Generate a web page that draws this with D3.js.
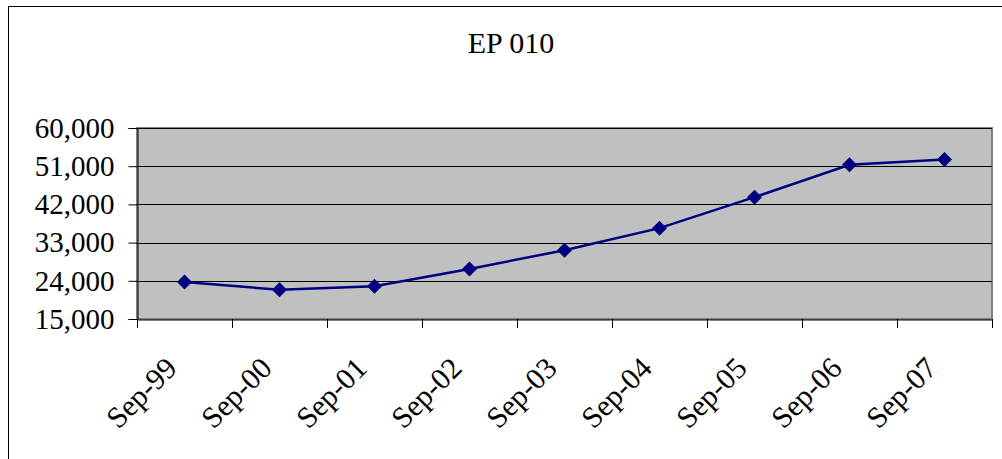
<!DOCTYPE html>
<html><head><meta charset="utf-8">
<script src="https://cdn.jsdelivr.net/npm/d3@7"></script>
<style>body{margin:0;background:#fff;} svg{display:block;}</style>
</head><body>
<svg id="c" width="1002" height="459"></svg>
<script>
const title = "EP 010";
const categories = ["Sep-99","Sep-00","Sep-01","Sep-02","Sep-03","Sep-04","Sep-05","Sep-06","Sep-07"];
const values = [23700, 21900, 22700, 26800, 31200, 36400, 43700, 51350, 52600];
const yTicks = [15000, 24000, 33000, 42000, 51000, 60000];

const font = "'Liberation Serif', 'Times New Roman', serif";
const svg = d3.select("#c");
const L = 137, R = 992, T = 128, B = 319;

// outer chart border
svg.append("rect").attr("x", 8.5).attr("y", 6.5).attr("width", 1100).attr("height", 600)
  .attr("fill", "#fff").attr("stroke", "#000").attr("stroke-width", 1);

svg.append("text").attr("x", 511).attr("y", 53).attr("text-anchor", "middle")
  .attr("font-family", font).attr("font-size", 30).text(title);

const x = d3.scaleBand().domain(categories).range([L, R]);
const y = d3.scaleLinear().domain([15000, 60000]).range([B, T]);

svg.append("rect").attr("x", L).attr("y", T).attr("width", R - L).attr("height", B - T)
  .attr("fill", "#c0c0c0").attr("stroke", "#808080").attr("stroke-width", 2);

svg.append("g").selectAll("line").data(yTicks.slice(1)).join("line")
  .attr("x1", L).attr("x2", R)
  .attr("y1", d => Math.round(y(d)) + 0.5).attr("y2", d => Math.round(y(d)) + 0.5)
  .attr("stroke", "#000").attr("stroke-width", 1);

const yAxis = svg.append("g").attr("transform", `translate(${L + 0.5},0)`)
  .call(d3.axisLeft(y).tickValues(yTicks).tickSize(9).tickPadding(14)
    .tickFormat(d3.format(",")));
yAxis.select(".domain").attr("stroke", "#000");
yAxis.selectAll(".tick line").attr("stroke", "#000");
yAxis.selectAll("text").attr("font-family", font).attr("font-size", 29).attr("fill", "#000");

const xAxis = svg.append("g").attr("transform", `translate(0,${B + 0.5})`)
  .call(d3.axisBottom(x).tickSize(0).tickFormat(""));
xAxis.select(".domain").attr("stroke", "#000");
// category boundary ticks
const bounds = categories.map(c => x(c)).concat([R]);
svg.append("g").selectAll("line").data(bounds).join("line")
  .attr("x1", d => Math.round(d) + 0.5).attr("x2", d => Math.round(d) + 0.5)
  .attr("y1", B).attr("y2", B + 9).attr("stroke", "#000");

svg.append("g").selectAll("text").data(categories).join("text")
  .attr("transform", d => `translate(${x(d) + x.bandwidth() / 2 - 6},${B + 51}) rotate(-45)`)
  .attr("text-anchor", "end").attr("font-family", font).attr("font-size", 30)
  .text(d => d);

const cx = d => x(d) + x.bandwidth() / 2;
const pts = categories.map((c, i) => [cx(c), y(values[i])]);
svg.append("path").attr("d", d3.line()(pts)).attr("fill", "none")
  .attr("stroke", "#000080").attr("stroke-width", 2.5);

svg.append("g").selectAll("path").data(pts).join("path")
  .attr("transform", d => `translate(${d[0]},${d[1]})`)
  .attr("d", "M0,-7.5L7.5,0L0,7.5L-7.5,0Z").attr("fill", "#000080");
</script>
</body></html>
